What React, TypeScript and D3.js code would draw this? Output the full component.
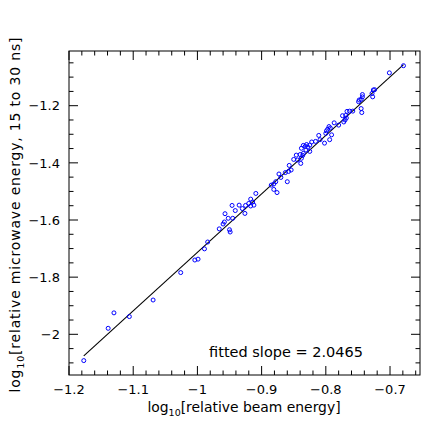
import React from 'react';
import * as d3 from 'd3';

// log10 relative beam energy
const beamEnergy = [
  -1.177, -1.139, -1.130, -1.106, -1.069, -1.026, -1.004, -0.999, -0.989, -0.984,
  -0.966, -0.960, -0.958, -0.950, -0.949, -0.957, -0.952, -0.945, -0.946, -0.941,
  -0.935, -0.930, -0.926, -0.925, -0.920, -0.917, -0.914, -0.912, -0.917, -0.909,
  -0.885, -0.881, -0.878, -0.881, -0.876, -0.873, -0.870, -0.860, -0.863, -0.858,
  -0.854, -0.857, -0.850, -0.846, -0.844, -0.839, -0.840, -0.836, -0.838, -0.835,
  -0.831, -0.825, -0.838, -0.835, -0.832, -0.830, -0.828, -0.825, -0.822, -0.816,
  -0.811, -0.809, -0.802, -0.794, -0.791, -0.800, -0.799, -0.797, -0.795, -0.793,
  -0.787, -0.780, -0.772, -0.770, -0.768, -0.774, -0.769, -0.767, -0.763, -0.758,
  -0.744, -0.745, -0.749, -0.748, -0.745, -0.743, -0.743, -0.727, -0.728, -0.726,
  -0.724, -0.701, -0.679,
];

// log10 relative microwave energy, 15 to 30 ns
const microwaveEnergy = [
  -2.092, -1.979, -1.925, -1.938, -1.880, -1.784, -1.740, -1.737, -1.701, -1.677,
  -1.631, -1.614, -1.607, -1.634, -1.642, -1.578, -1.594, -1.594, -1.549, -1.567,
  -1.548, -1.560, -1.577, -1.549, -1.542, -1.527, -1.537, -1.548, -1.551, -1.507,
  -1.478, -1.474, -1.466, -1.493, -1.504, -1.439, -1.451, -1.466, -1.434, -1.430,
  -1.425, -1.409, -1.388, -1.373, -1.390, -1.402, -1.371, -1.374, -1.384, -1.367,
  -1.355, -1.360, -1.349, -1.339, -1.342, -1.336, -1.345, -1.338, -1.327, -1.325,
  -1.304, -1.319, -1.331, -1.319, -1.302, -1.297, -1.288, -1.282, -1.273, -1.278,
  -1.260, -1.268, -1.257, -1.250, -1.243, -1.235, -1.234, -1.220, -1.219, -1.219,
  -1.224, -1.210, -1.186, -1.180, -1.178, -1.169, -1.161, -1.169, -1.157, -1.145,
  -1.144, -1.085, -1.060,
];

const fitSlope = 2.0465;
const fitIntercept = 0.333;

const xTickValues = [-1.2, -1.1, -1.0, -0.9, -0.8, -0.7];
const xTickLabels = ['\u22121.2', '\u22121.1', '\u22121', '\u22120.9', '\u22120.8', '\u22120.7'];
const yTickValues = [-2.0, -1.8, -1.6, -1.4, -1.2];
const yTickLabels = ['\u22122', '\u22121.8', '\u22121.6', '\u22121.4', '\u22121.2'];

const FONT = '"DejaVu Sans", sans-serif';

export default function App() {
  const W = 443;
  const H = 443;
  const left = 69, right = 420, top = 51, bottom = 375;
  const x = d3.scaleLinear().domain([-1.2, -0.6533]).range([left, right]);
  const y = d3.scaleLinear().domain([-2.1424, -1.0086]).range([bottom, top]);

  const xMinor = d3.range(0, 30).map(i => -1.2 + i * 0.02).filter(v => v <= -0.6533 + 1e-9);
  const yMinor = d3.range(0, 24).map(i => -2.1 + i * 0.05).filter(v => v <= -1.0086 && v >= -2.1424);
  const isMajor = (v: number, majors: number[]) => majors.some(m => Math.abs(m - v) < 1e-6);

  const majorLen = 9;
  const minorLen = 4.5;

  const pts = beamEnergy.map((b, i) => [b, microwaveEnergy[i]] as [number, number]);
  const xExt = d3.extent(beamEnergy) as [number, number];
  const linePath = d3.line<number>()
    .x(v => x(v))
    .y(v => y(fitIntercept + fitSlope * v))([xExt[0], xExt[1]]);

  return (
    <svg width={W} height={H} style={{ position: 'absolute', left: 0, top: 0, background: '#fff' }}
      fontFamily={FONT}>
      <rect x={0} y={0} width={W} height={H} fill="#fff" />
      {/* ticks */}
      <g stroke="#000" strokeWidth={1}>
        {xMinor.map((v, i) => {
          const len = isMajor(v, xTickValues) ? majorLen : minorLen;
          const px = x(v);
          return (
            <g key={'xt' + i}>
              <line x1={px} x2={px} y1={bottom} y2={bottom - len} />
              <line x1={px} x2={px} y1={top} y2={top + len} />
            </g>
          );
        })}
        {yMinor.map((v, i) => {
          const len = isMajor(v, yTickValues) ? majorLen : minorLen;
          const py = y(v);
          return (
            <g key={'yt' + i}>
              <line x1={left} x2={left + len} y1={py} y2={py} />
              <line x1={right} x2={right - len} y1={py} y2={py} />
            </g>
          );
        })}
      </g>
      <rect x={left} y={top} width={right - left} height={bottom - top} fill="none" stroke="#000" strokeWidth={1} />
      {/* tick labels */}
      <g fontSize={13} fill="#000">
        {xTickValues.map((v, i) => (
          <text key={'xl' + i} x={x(v)} y={393.5} textAnchor="middle">{xTickLabels[i]}</text>
        ))}
        {yTickValues.map((v, i) => (
          <text key={'yl' + i} x={60} y={y(v) + 4.7} textAnchor="end">{yTickLabels[i]}</text>
        ))}
      </g>
      {/* fit line */}
      <path d={linePath || ''} fill="none" stroke="#000" strokeWidth={1.1} />
      {/* points */}
      <g fill="none" stroke="#0000ff" strokeWidth={1}>
        {pts.map((p, i) => (
          <circle key={'p' + i} cx={x(p[0])} cy={y(p[1])} r={2} />
        ))}
      </g>
      {/* axis labels */}
      <text x={244} y={412} textAnchor="middle" fontSize={13.9} fill="#000">
        log<tspan fontSize={9.5} dy={4}>10</tspan><tspan dy={-4}>[relative beam energy]</tspan>
      </text>
      <text transform={`translate(20,215) rotate(-90)`} textAnchor="middle" fontSize={14} fill="#000"
        textLength={355} lengthAdjust="spacing">
        log<tspan fontSize={9.5} dy={4}>10</tspan><tspan dy={-4}>[relative microwave energy, 15 to 30 ns]</tspan>
      </text>
      <text x={363} y={357} textAnchor="end" fontSize={14.5} fill="#000">fitted slope = 2.0465</text>
    </svg>
  );
}
